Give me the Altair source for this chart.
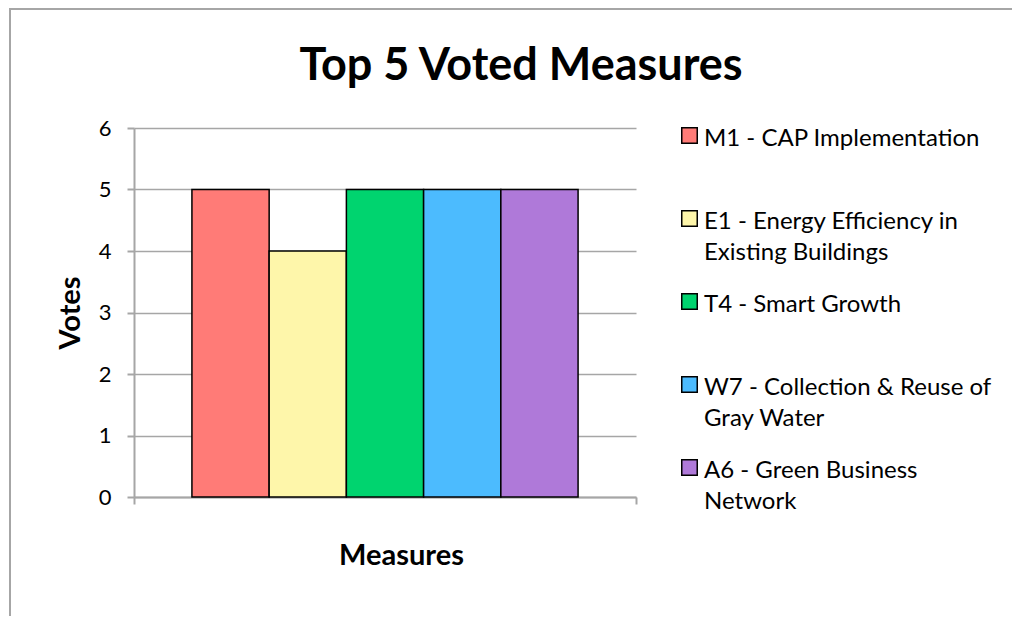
import altair as alt
import pandas as pd

measures = [
    "M1 - CAP Implementation",
    "E1 - Energy Efficiency in Existing Buildings",
    "T4 - Smart Growth",
    "W7 - Collection & Reuse of Gray Water",
    "A6 - Green Business Network",
]
legend_labels = [
    "M1 - CAP Implementation",
    "E1 - Energy Efficiency in\nExisting Buildings",
    "T4 - Smart Growth",
    "W7 - Collection & Reuse of\nGray Water",
    "A6 - Green Business\nNetwork",
]
votes = [5, 4, 5, 5, 5]
category = ["0", "0", "0", "0", "0"]
colors = ["#FF7B77", "#FEF6AA", "#00D46F", "#4CBBFE", "#AF79D9"]
legend_index = [0, 1, 2, 3, 4]
y_ticks = [0, 1, 2, 3, 4, 5, 6]

df = pd.DataFrame({"cat": category, "measure": measures, "votes": votes,
                   "label": legend_labels, "idx": legend_index})

FONT = "Lato"
color_scale = alt.Scale(domain=measures, range=colors)

bars = alt.Chart(df).mark_bar(stroke="black", strokeWidth=1.5).encode(
    x=alt.X("cat:N", title="Measures",
            scale=alt.Scale(paddingInner=0, paddingOuter=0),
            axis=alt.Axis(labels=False, tickBand="extent", tickSize=7,
                          tickColor="#A6A6A6", tickWidth=2, domainColor="#A6A6A6",
                          domainWidth=2, titleX=267, titleY=58,
                          titleBaseline="middle", titleFontSize=29)),
    xOffset=alt.XOffset("measure:N", sort=measures,
                        scale=alt.Scale(paddingInner=0, paddingOuter=0.75)),
    y=alt.Y("votes:Q", title="Votes", scale=alt.Scale(domain=[0, 6]),
            axis=alt.Axis(values=y_ticks, tickSize=7, tickColor="#A6A6A6",
                          tickWidth=2, domainColor="#A6A6A6", domainWidth=2,
                          gridColor="#A6A6A6", gridWidth=1.5, labelPadding=16,
                          titleX=-64, titleY=184.5, titleAngle=270,
                          titleBaseline="middle", titleFontSize=29)),
    color=alt.Color("measure:N", scale=color_scale, legend=None),
)

legend_y = alt.Scale(domain=[-0.0904, 4.3554], reverse=True)

legend_sq = alt.Chart(df).mark_square(size=240, stroke="black", strokeWidth=1.5,
                                      opacity=1, filled=True).encode(
    x=alt.value(555.5),
    y=alt.Y("idx:Q", scale=legend_y, axis=None),
    color=alt.Color("measure:N", scale=color_scale, legend=None),
)

legend_txt = alt.Chart(df).mark_text(align="left", baseline="top", lineBreak="\n",
                                     font=FONT, fontSize=24, lineHeight=31,
                                     color="black", dy=-9).encode(
    x=alt.value(570),
    y=alt.Y("idx:Q", scale=legend_y, axis=None),
    text="label:N",
)

one = pd.DataFrame({"a": [0]})
frame_left = alt.Chart(one).mark_rule(color="#A6A6A6", strokeWidth=2).encode(
    x=alt.value(-124), y=alt.value(-119), y2=alt.value(488))
frame_top = alt.Chart(one).mark_rule(color="#A6A6A6", strokeWidth=2).encode(
    y=alt.value(-119), x=alt.value(-125), x2=alt.value(878))

chart = alt.layer(frame_left, frame_top, bars, legend_sq, legend_txt).resolve_scale(
    y="independent"
).properties(
    width=502, height=369, padding=0,
    title=alt.Title("Top 5 Voted Measures", font=FONT, fontSize=45, fontWeight="bold",
                    color="black", anchor="middle", frame="group", dx=136,
                    baseline="alphabetic", offset=-117),
).configure_view(stroke=None).configure_axis(
    labelFont=FONT, labelFontSize=22, labelColor="black",
    titleFont=FONT, titleFontWeight="bold", titleColor="black",
)

chart.save("out.html", embed_options={"renderer": "svg", "actions": False})
